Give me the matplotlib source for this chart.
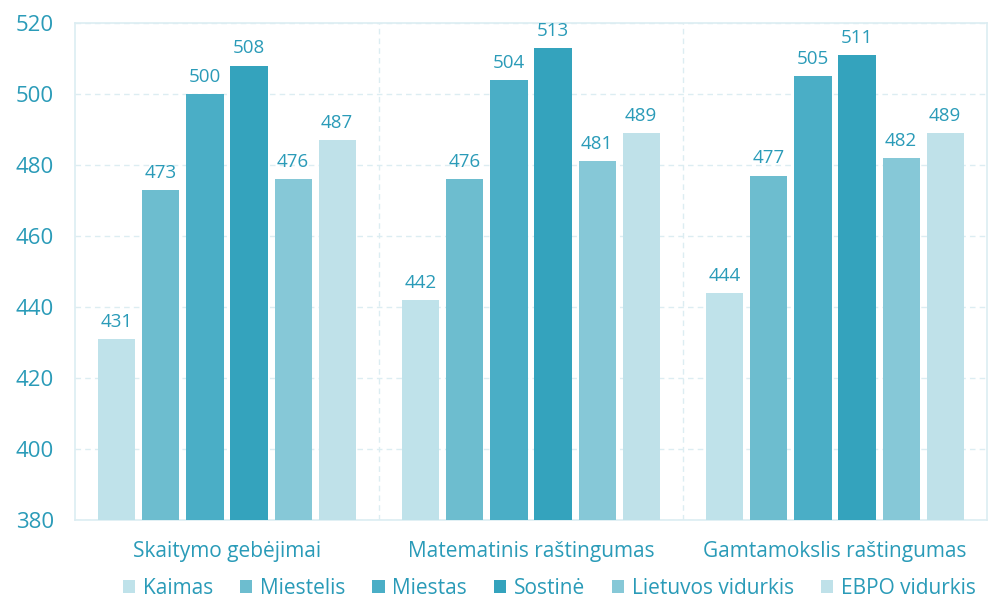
import numpy as np
import matplotlib.pyplot as plt

plt.rcParams['font.family'] = ['Open Sans', 'DejaVu Sans']

# ---- data ----
kategorijos = ["Skaitymo gebėjimai", "Matematinis raštingumas", "Gamtamokslis raštingumas"]
serijos = ["Kaimas", "Miestelis", "Miestas", "Sostinė", "Lietuvos vidurkis", "EBPO vidurkis"]
kaimas = [431, 442, 444]
miestelis = [473, 476, 477]
miestas = [500, 504, 505]
sostine = [508, 513, 511]
lt_vidurkis = [476, 481, 482]
ebpo_vidurkis = [487, 489, 489]
reiksmes = [kaimas, miestelis, miestas, sostine, lt_vidurkis, ebpo_vidurkis]

spalvos = ["#bfe2ea", "#6dbdcf", "#4aaec6", "#34a3bd", "#86c8d7", "#bfe1e9"]
tekstas = "#2a9bb8"
linija = "#dcedf2"

fig = plt.figure(figsize=(9.96, 5.98), dpi=100)
ax = fig.add_axes([75/996, 78/598, (987-75)/996, (520-23)/598])

x = np.arange(len(kategorijos))
plotis = 0.122
zingsnis = 0.145
for k, (navn, vals) in enumerate(zip(serijos, reiksmes)):
    pos = x + (k - 2.5) * zingsnis
    bars = ax.bar(pos, np.array(vals) - 380, bottom=380, width=plotis,
                  color=spalvos[k], label=navn, zorder=3)
    for b, v in zip(bars, vals):
        ax.text(b.get_x() + b.get_width()/2, v + 2.3, str(v), ha='center',
                va='bottom', fontsize=13.5, color=tekstas, zorder=4)

ax.set_xlim(-0.5, 2.5)
ax.set_ylim(380, 520)
ax.set_yticks(np.arange(380, 521, 20))
ax.set_xticks(x)
ax.set_xticklabels(kategorijos)

ax.yaxis.grid(True, linestyle=(0, (4, 3)), color=linija, linewidth=1, zorder=0)
for xs in [0.5, 1.5]:
    ax.axvline(xs, linestyle=(0, (4, 3)), color=linija, linewidth=1, zorder=0)

for s in ax.spines.values():
    s.set_color(linija)
    s.set_linewidth(1.2)

ax.tick_params(axis='y', length=0, pad=15, labelsize=16, labelcolor=tekstas)
ax.tick_params(axis='x', length=0, pad=15, labelsize=15, labelcolor=tekstas)

leg = ax.legend(loc='center', bbox_to_anchor=(0.52, -0.138), ncol=6,
                frameon=False, fontsize=15, handlelength=0.6, handleheight=0.6,
                handletextpad=0.35, columnspacing=1.3, borderaxespad=0)
for t in leg.get_texts():
    t.set_color(tekstas)

fig.savefig("out.png", dpi=100)
